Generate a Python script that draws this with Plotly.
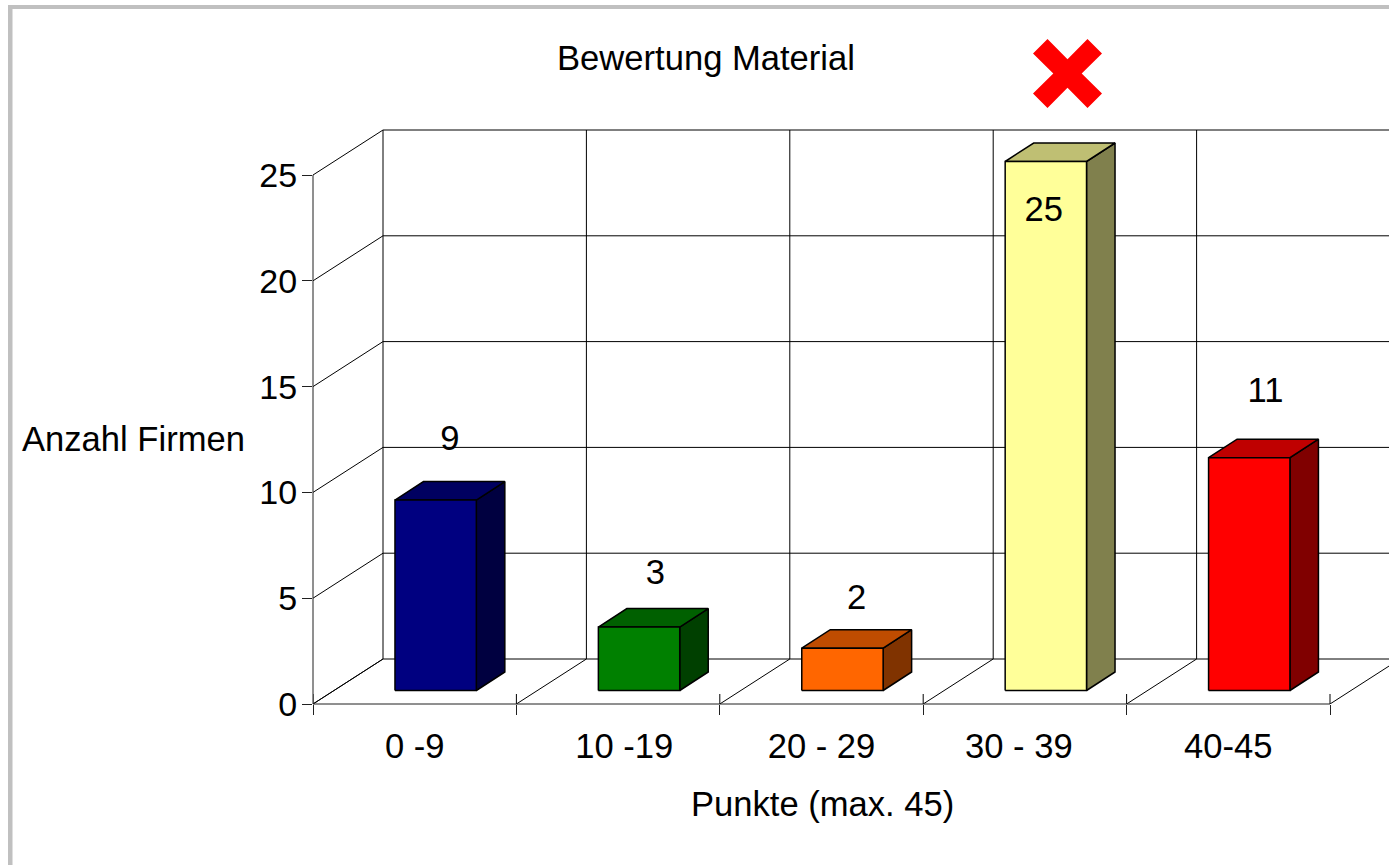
import plotly.graph_objects as go

# ---- data ----
categories = ["0 -9", "10 -19", "20 - 29", "30 - 39", "40-45"]
values = [9, 3, 2, 25, 11]
y_ticks = [0, 5, 10, 15, 20, 25]
front_colors = ["#000080", "#008000", "#ff6600", "#ffff99", "#ff0000"]
top_colors = ["#000060", "#006000", "#bf4c00", "#bfbf73", "#bf0000"]
side_colors = ["#000040", "#004000", "#803300", "#80804d", "#800000"]
label_offset_x = [0.07, 0.08, 0.07, -0.01, 0.08]
label_y = [12.4, 6.1, 4.9, 23.25, 14.7]
tick_label_x = [0.5, 1.53, 2.5, 3.47, 4.5]

W, H = 1389, 865
L, R, T, B = 313, 0, 120, 161
PX_X = 1017 / 5
PX_Y = 529 / 25
X_MAX = (W - L - R) / PX_X
Y_MAX = (H - T - B) / PX_Y
FONT = "Liberation Sans, Arial, sans-serif"
FS = 34.6

WALL_DX, WALL_DY = 70 / PX_X, 45 / PX_Y
BAR_X0, BAR_W = 0.403, 0.40
BAR_BASE = 13.5 / PX_Y
BAR_DX, BAR_DY = 28.5 / PX_X, 18.5 / PX_Y
GRID = "#000000"

fig = go.Figure()


def line(xs, ys, color=GRID, width=1):
    fig.add_trace(go.Scatter(x=xs, y=ys, mode="lines", cliponaxis=False, showlegend=False,
                             hoverinfo="skip", line=dict(color=color, width=width)))


def face(xs, ys, color):
    fig.add_trace(go.Scatter(x=xs, y=ys, mode="lines", fill="toself", fillcolor=color,
                             cliponaxis=False, showlegend=False, hoverinfo="skip",
                             line=dict(color="#000000", width=1.5)))


# back wall: horizontal gridlines and left-wall slants
for v in y_ticks:
    line([0, WALL_DX, 5 + WALL_DX], [v, v + WALL_DY, v + WALL_DY])
# back wall verticals and floor slants
for i in range(6):
    line([i + WALL_DX, i + WALL_DX], [WALL_DY, 25 + WALL_DY])
    line([i, i + WALL_DX], [0, WALL_DY])
# inner half of the x ticks
for i in range(6):
    line([i, i], [0, 10 / PX_Y])

# bars
for i, v in enumerate(values):
    x0, x1 = i + BAR_X0, i + BAR_X0 + BAR_W
    y0, y1 = BAR_BASE, BAR_BASE + v
    face([x1, x1 + BAR_DX, x1 + BAR_DX, x1, x1], [y0, y0 + BAR_DY, y1 + BAR_DY, y1, y0], side_colors[i])
    face([x0, x0 + BAR_DX, x1 + BAR_DX, x1, x0], [y1, y1 + BAR_DY, y1 + BAR_DY, y1, y1], top_colors[i])
    face([x0, x1, x1, x0, x0], [y0, y0, y1, y1, y0], front_colors[i])

# data labels
fig.add_trace(go.Scatter(
    x=[i + BAR_X0 + BAR_W / 2 + label_offset_x[i] for i in range(5)],
    y=label_y, mode="text", text=[str(v) for v in values], textposition="middle center",
    textfont=dict(family=FONT, size=FS, color="#000000"),
    cliponaxis=False, showlegend=False, hoverinfo="skip"))


def paper_x(px):
    return (px - L) / (W - L - R)


def paper_y(py):
    return 1 - (py - T) / (H - T - B)


X_PATH = ("M-34.5,20 L-20,34.5 L0,14.2 L20,34.5 L34.5,20 L14.2,0 L34.5,-20 "
          "L20,-34.5 L0,-14.2 L-20,-34.5 L-34.5,-20 L-14.2,0 Z")

shapes = [
    dict(type="rect", xref="paper", yref="paper", x0=paper_x(8), x1=paper_x(W), y0=paper_y(5), y1=paper_y(9),
         fillcolor="#c0c0c0", line_width=0, layer="below"),
    dict(type="rect", xref="paper", yref="paper", x0=paper_x(8), x1=paper_x(12.5), y0=paper_y(5), y1=paper_y(H),
         fillcolor="#c0c0c0", line_width=0, layer="below"),
    dict(type="path", xref="paper", yref="paper", xsizemode="pixel", ysizemode="pixel",
         xanchor=paper_x(1067.5), yanchor=paper_y(73.5), path=X_PATH, fillcolor="#ff0000", line_width=0),
    # axis lines, which stop at the last tick
    dict(type="line", xref="paper", yref="paper", x0=0, x1=0, y0=0, y1=25 / Y_MAX,
         line=dict(color="#202020", width=1)),
    dict(type="line", xref="paper", yref="paper", x0=0, x1=5 / X_MAX, y0=0, y1=0,
         line=dict(color="#202020", width=1)),
]

fig.update_layout(
    width=W, height=H, autosize=False,
    margin=dict(l=L, r=R, t=T, b=B, pad=0),
    paper_bgcolor="#ffffff", plot_bgcolor="rgba(0,0,0,0)",
    showlegend=False,
    font=dict(family=FONT, size=FS, color="#000000"),
    title=dict(text="Bewertung Material", xref="paper", yref="container",
               x=paper_x(706), xanchor="center", y=1 - 58 / H, yanchor="middle",
               font=dict(family=FONT, size=FS, color="#000000")),
    xaxis=dict(range=[0, X_MAX], tickmode="array", tickvals=tick_label_x, ticktext=categories,
               showgrid=False, zeroline=False, showline=False,
               ticks="", ticklabelstandoff=18,
               minor=dict(ticks="outside", ticklen=10, tickwidth=1, tickcolor="#202020",
                          tick0=0, dtick=1, showgrid=False),
               tickfont=dict(family=FONT, size=FS, color="#000000")),
    yaxis=dict(range=[0, Y_MAX], tickmode="array", tickvals=y_ticks, showgrid=False, zeroline=False,
               showline=False, ticks="outside", ticklen=10, tickwidth=1, ticklabelstandoff=-2,
               tickcolor="#202020", tickfont=dict(family=FONT, size=34, color="#000000")),
    shapes=shapes,
    annotations=[
        dict(text="Anzahl Firmen", xref="paper", yref="paper", x=paper_x(133), y=paper_y(439),
             xanchor="center", yanchor="middle", showarrow=False,
             font=dict(family=FONT, size=FS, color="#000000")),
        dict(text="Punkte (max. 45)", xref="paper", yref="paper", x=paper_x(822), y=paper_y(804),
             xanchor="center", yanchor="middle", showarrow=False,
             font=dict(family=FONT, size=FS, color="#000000")),
    ],
)

fig.write_html("out.html", config={"displayModeBar": False},
               post_script="document.body.style.margin='0';document.body.style.overflow='hidden';")
